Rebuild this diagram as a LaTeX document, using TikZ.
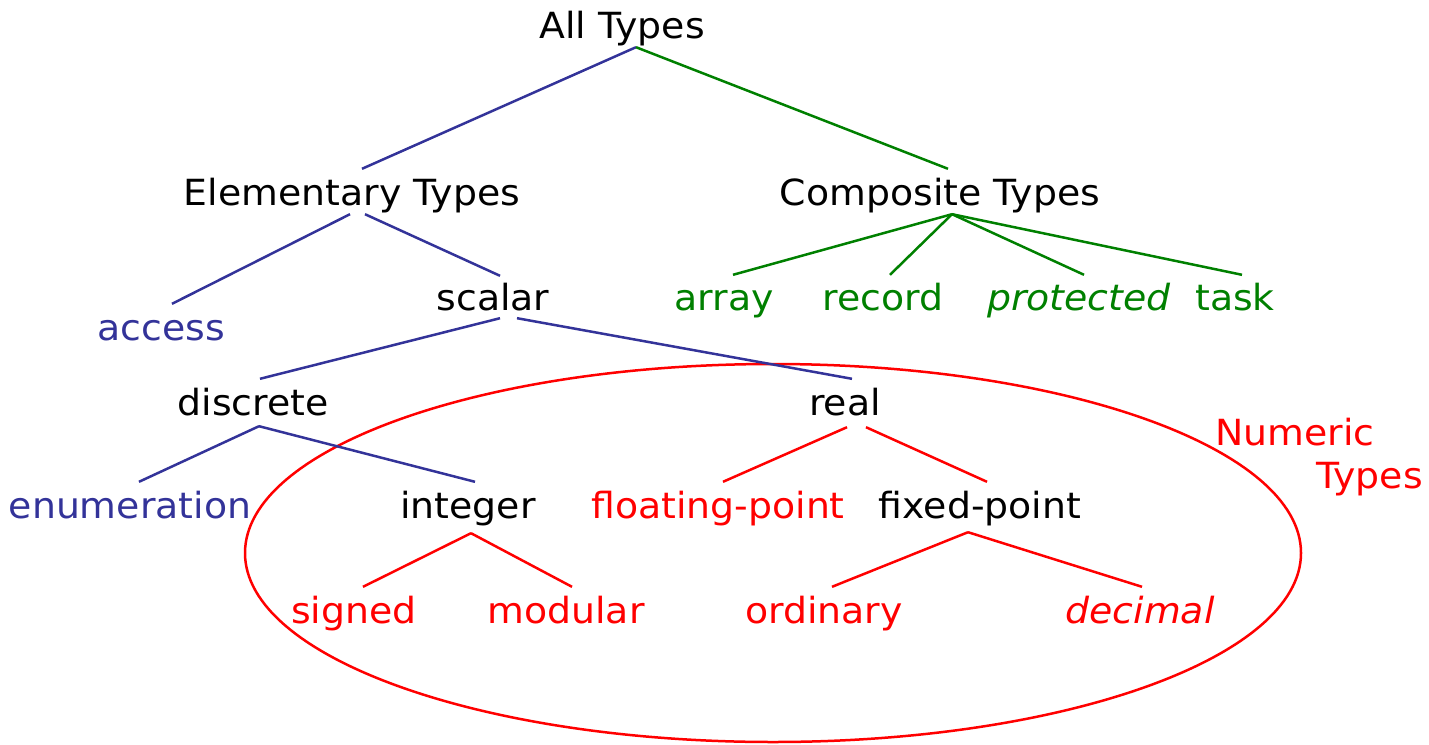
\documentclass[tikz,border=0pt]{standalone}
\usepackage{fontspec}
\setmainfont{DejaVu Sans}[FakeStretch=1.05]
\definecolor{tblue}{HTML}{333399}
\definecolor{tgreen}{HTML}{008000}
\definecolor{tred}{HTML}{FF0000}
\begin{document}
\begin{tikzpicture}[x=1pt,y=-1pt,
  lbl/.style={anchor=base,inner sep=0pt,text height=36pt,text depth=9pt,font=\fontsize{36}{43}\selectfont},
  bl/.style={draw=tblue,line width=2.5pt},
  gl/.style={draw=tgreen,line width=2.5pt},
  rl/.style={draw=tred,line width=2.5pt}]
\useasboundingbox (0,0) rectangle (1429,744);
% ellipse
\draw[tred,line width=2.5pt] (773,553) ellipse [x radius=528pt, y radius=189pt];
% nodes
\node[lbl] (all) at (622,38) {All Types};
\node[lbl] (elem) at (352,205) {Elementary Types};
\node[lbl] (comp) at (940,205) {Composite Types};
\node[lbl,text=tblue] (access) at (161,340) {access};
\node[lbl] (scalar) at (493,310) {scalar};
\node[lbl,text=tgreen] (array) at (724,310) {array};
\node[lbl,text=tgreen] (record) at (883,310) {record};
\node[lbl,text=tgreen,font=\fontsize{36}{43}\selectfont\itshape] (prot) at (1079,310) {protected};
\node[lbl,text=tgreen] (task) at (1235,310) {task};
\node[lbl] (discrete) at (253,415) {discrete};
\node[lbl] (real) at (845,415) {real};
\node[lbl,text=tblue] (enum) at (130,518) {enumeration};
\node[lbl] (integer) at (468,518) {integer};
\node[lbl,text=tred] (float) at (718,518) {floating-point};
\node[lbl] (fixed) at (980,518) {fixed-point};
\node[lbl,text=tred] (signed) at (354,623) {signed};
\node[lbl,text=tred] (modular) at (566,623) {modular};
\node[lbl,text=tred] (ordinary) at (824,623) {ordinary};
\node[lbl,text=tred,font=\fontsize{36}{43}\selectfont\itshape] (decimal) at (1140,623) {decimal};
\node[anchor=base west,inner sep=0pt,align=left,text=tred,font=\fontsize{36}{43}\selectfont] (numeric) at (1215,488) {Numeric\\\hspace*{101pt}Types};
% connectors
\draw[bl] ([xshift=14pt]all.south) -- ([xshift=10pt]elem.north);
\draw[gl] ([xshift=14pt]all.south) -- ([xshift=8pt]comp.north);
\draw[bl] ([xshift=-2pt]elem.south) -- ([xshift=11pt]access.north);
\draw[bl] ([xshift=13pt]elem.south) -- ([xshift=7pt,yshift=-2pt]scalar.north);
\draw[gl] ([xshift=12pt]comp.south) -- ([xshift=9pt,yshift=-1pt]array.north);
\draw[gl] ([xshift=12pt]comp.south) -- ([xshift=7pt,yshift=-1pt]record.north);
\draw[gl] ([xshift=12pt]comp.south) -- ([xshift=5pt,yshift=-1pt]prot.north);
\draw[gl] ([xshift=12pt]comp.south) -- ([xshift=7pt,yshift=-1pt]task.north);
\draw[bl] ([xshift=7pt,yshift=1pt]scalar.south) -- ([xshift=7pt]discrete.north);
\draw[bl] ([xshift=24pt,yshift=1pt]scalar.south) -- ([xshift=7pt]real.north);
\draw[bl] ([xshift=6pt,yshift=-2pt]discrete.south) -- ([xshift=9pt]enum.north);
\draw[bl] ([xshift=6pt,yshift=-2pt]discrete.south) -- ([xshift=7pt]integer.north);
\draw[rl] ([xshift=2pt,yshift=-3pt]real.south) -- ([xshift=5pt]float.north);
\draw[rl] ([xshift=21pt,yshift=-3pt]real.south) -- ([xshift=7pt]fixed.north);
\draw[rl] ([xshift=3pt,yshift=-6pt]integer.south) -- ([xshift=9pt]signed.north);
\draw[rl] ([xshift=3pt,yshift=-6pt]integer.south) -- ([xshift=6pt]modular.north);
\draw[rl] ([xshift=-12pt,yshift=-5pt]fixed.south) -- ([xshift=8pt]ordinary.north);
\draw[rl] ([xshift=-12pt,yshift=-5pt]fixed.south) -- ([xshift=2pt]decimal.north);
\end{tikzpicture}
\end{document}
